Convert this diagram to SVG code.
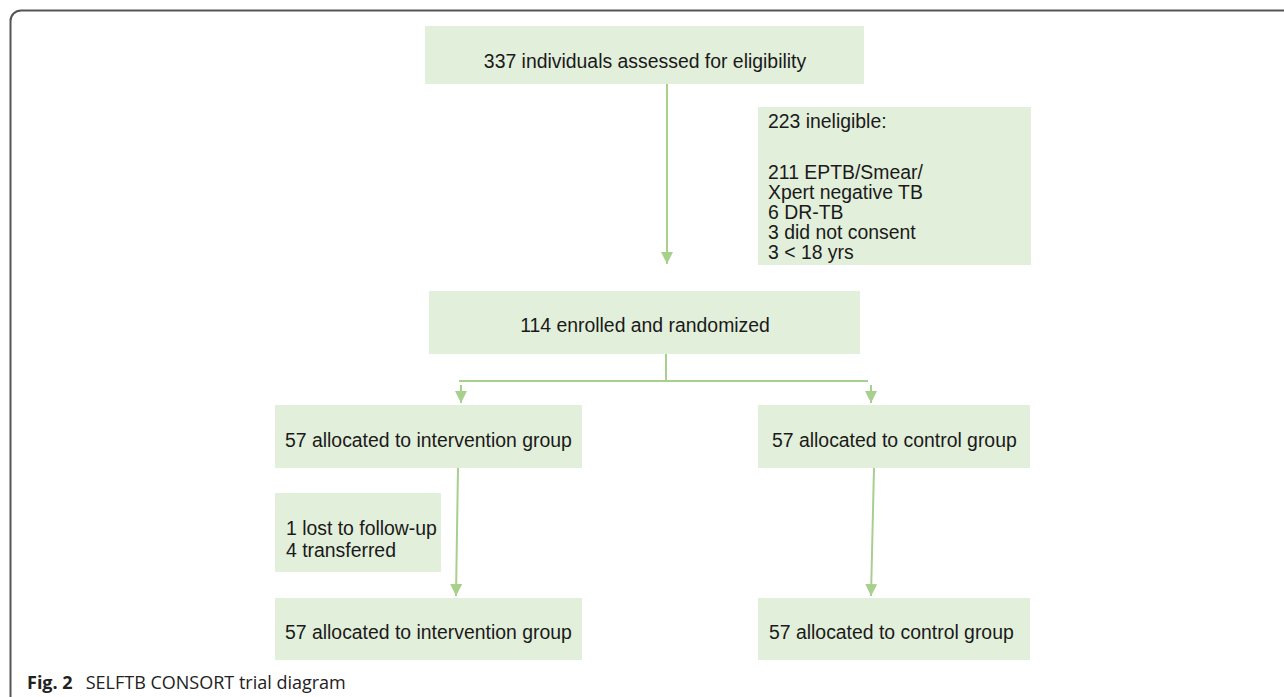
<svg xmlns="http://www.w3.org/2000/svg" width="1284" height="697" viewBox="0 0 1284 697">
<style>
.box{fill:#e2efda;}
.t{font-family:"Liberation Sans",Arial,sans-serif;font-size:19.4px;fill:#1a1a1a;}
.c{text-anchor:middle;}
.ln{stroke:#a8d08d;stroke-width:2;fill:none;}
.cap{font-family:"Open Sans","Noto Sans",sans-serif;font-size:18px;fill:#222;}
</style>
<defs>
<marker id="ah" viewBox="0 0 10 10" refX="10" refY="5" markerWidth="6" markerHeight="6" markerUnits="strokeWidth" orient="auto">
<path d="M0,0 L10,5 L0,10 z" fill="#a8d08d"/>
</marker>
</defs>
<path d="M10.5,697 V21 a10.5,10.5 0 0 1 10.5,-10.5 H1284" fill="none" stroke="#555" stroke-width="2"/>
<g id="connectors">
<line class="ln" x1="667" y1="84" x2="667" y2="264" marker-end="url(#ah)"/>
<line class="ln" x1="666" y1="354" x2="666" y2="381"/>
<line class="ln" x1="459" y1="381" x2="868" y2="381"/>
<line class="ln" x1="461" y1="385" x2="461" y2="403" marker-end="url(#ah)"/>
<line class="ln" x1="871" y1="385" x2="871" y2="403" marker-end="url(#ah)"/>
<line class="ln" x1="458" y1="468" x2="456" y2="596" marker-end="url(#ah)"/>
<line class="ln" x1="874" y1="468" x2="871" y2="596" marker-end="url(#ah)"/>
</g>
<g id="n_assessed"><rect class="box" x="425" y="26" width="439" height="58"/><text class="t c" x="645" y="68">337 individuals assessed for eligibility</text></g>
<g id="n_ineligible"><rect class="box" x="758" y="107" width="273" height="158"/>
<text class="t" x="768" y="128">223 ineligible:</text>
<text class="t" x="768" y="179">211 EPTB/Smear/</text>
<text class="t" x="768" y="199">Xpert negative TB</text>
<text class="t" x="768" y="219">6 DR-TB</text>
<text class="t" x="768" y="239">3 did not consent</text>
<text class="t" x="768" y="259">3 &lt; 18 yrs</text></g>
<g id="n_enrolled"><rect class="box" x="429" y="291" width="431" height="63"/><text class="t c" x="645" y="332">114 enrolled and randomized</text></g>
<g id="n_int1"><rect class="box" x="275" y="405" width="307" height="63"/><text class="t" x="285" y="447">57 allocated to intervention group</text></g>
<g id="n_ctl1"><rect class="box" x="758" y="405" width="272" height="63"/><text class="t" x="772" y="447">57 allocated to control group</text></g>
<g id="n_lost"><rect class="box" x="275" y="493" width="166" height="79"/>
<text class="t" x="286" y="535">1 lost to follow-up</text>
<text class="t" x="286" y="557">4 transferred</text></g>
<g id="n_int2"><rect class="box" x="275" y="598" width="307" height="62"/><text class="t" x="285" y="639">57 allocated to intervention group</text></g>
<g id="n_ctl2"><rect class="box" x="758" y="598" width="272" height="62"/><text class="t" x="769" y="639">57 allocated to control group</text></g>
<text class="cap" x="27" y="689"><tspan font-weight="bold">Fig. 2</tspan><tspan dx="13">SELFTB CONSORT trial diagram</tspan></text>
</svg>
